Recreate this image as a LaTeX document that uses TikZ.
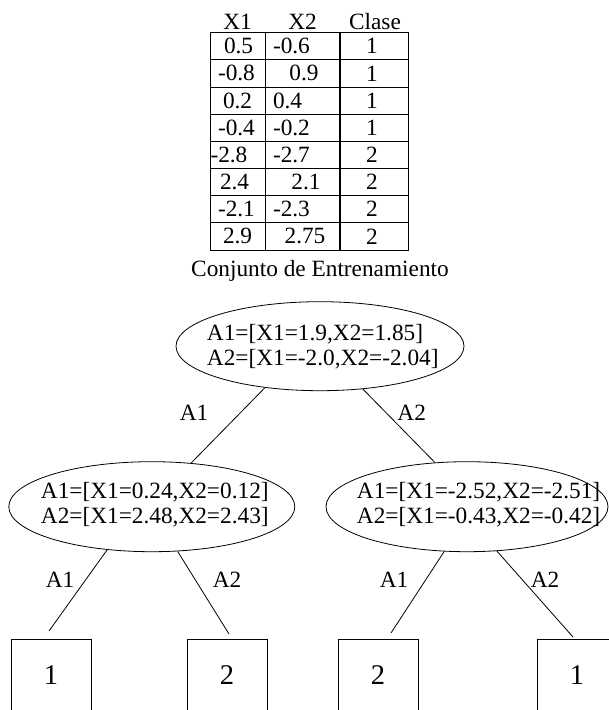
\documentclass[tikz,border=0pt]{standalone}
\usepackage{fontspec}
\setmainfont{Liberation Serif}
\usetikzlibrary{shapes.geometric}
\tikzset{
  txt/.style={inner sep=0pt, outer sep=0pt},
  oval/.style={ellipse, draw, line width=0.8pt, inner sep=0pt, minimum width=#1},
  oval/.default=286pt,
  leaf/.style={draw, line width=0.9pt, anchor=north, minimum width=80pt, inner xsep=0pt,
               inner ysep=26pt, text height=19.5pt, text depth=60pt,
               font=\fontsize{28.5}{30}\selectfont},
  edge/.style={line width=0.8pt},
  tline/.style={line width=0.9pt},
  tcol/.style={line width=1.2pt},
  blk/.style={txt, align=left},
}
\begin{document}
\begin{tikzpicture}[x=1pt, y=-1pt, font=\fontsize{23.3}{25}\selectfont]
\useasboundingbox (0,0) rectangle (609,710);
\clip (0,0) rectangle (609,710);

% ---------- table ----------
\draw[tline] (210,32.7) rectangle (408,250);
\foreach \k in {1,...,7} {
  \draw[tline] (210,{32.7+\k*27.16}) -- (408,{32.7+\k*27.16});
}
\draw[tcol] (265.5,32.7) -- (265.5,250);
\draw[tcol] (340,32.7) -- (340,250);

\node[txt, anchor=base] (hx1) at (237.5,29) {X1};
\node[txt, anchor=base] (hx2) at (302.5,29) {X2};
\node[txt, anchor=base] (hcl) at (375,29) {Clase};

% X1 column
\node[txt, anchor=west] (a1) at (224,46.3) {0.5};
\node[txt, anchor=west] (a2) at (218,73.4) {-0.8};
\node[txt, anchor=west] (a3) at (223,100.6) {0.2};
\node[txt, anchor=west] (a4) at (218,127.8) {-0.4};
\node[txt, anchor=west] (a5) at (210.5,154.9) {-2.8};
\node[txt, anchor=west] (a6) at (220,182.1) {2.4};
\node[txt, anchor=west] (a7) at (218,209.2) {-2.1};
\node[txt, anchor=west] (a8) at (223,236.4) {2.9};
% X2 column
\node[txt, anchor=west] (b1) at (273,46.3) {-0.6};
\node[txt] (b2) at (304,73.4) {0.9};
\node[txt, anchor=west] (b3) at (273,100.6) {0.4};
\node[txt, anchor=west] (b4) at (273,127.8) {-0.2};
\node[txt, anchor=west] (b5) at (273,154.9) {-2.7};
\node[txt] (b6) at (306,182.1) {2.1};
\node[txt, anchor=west] (b7) at (273,209.2) {-2.3};
\node[txt] (b8) at (305,236.4) {2.75};
% Clase column
\node[txt] (c1) at (372,46.3) {1};
\node[txt] (c2) at (372,73.4) {1};
\node[txt] (c3) at (372,100.6) {1};
\node[txt] (c4) at (372,127.8) {1};
\node[txt] (c5) at (372,154.9) {2};
\node[txt] (c6) at (372,182.1) {2};
\node[txt] (c7) at (372,209.2) {2};
\node[txt] (c8) at (372,236.4) {2};

\node[txt, anchor=base] (cap) at (320,276) {Conjunto de Entrenamiento};

% ---------- tree ----------
\node[oval=288pt, minimum height=89pt] (T) at (320,346.2) {};
\node[blk] (Tt) at (322.8,346.5) {A1=[X1=1.9,X2=1.85]\\A2=[X1=-2.0,X2=-2.04]};

\node[oval=286pt, minimum height=90pt] (L) at (151.8,506.7) {};
\node[blk] (Lt) at (154.8,505) {A1=[X1=0.24,X2=0.12]\\A2=[X1=2.48,X2=2.43]};

\node[oval=282pt, minimum height=90pt] (R) at (467,506.7) {};
\node[blk] (Rt) at (478.6,505) {A1=[X1=-2.52,X2=-2.51]\\A2=[X1=-0.43,X2=-0.42]};

\draw[edge] (T.217) -- (L.48);
\draw[edge] (T.315) -- (R.126);
\node[txt] (lTL) at (194,413) {A1};
\node[txt] (lTR) at (411.7,413) {A2};

\node[leaf] (k1) at (51,639) {1};
\node[leaf] (k2) at (227,639) {2};
\node[leaf] (k3) at (378,639) {2};
\node[leaf] (k4) at (577,639) {1};

\coordinate (e1) at (49,631);
\coordinate (e2) at (229,634);
\coordinate (e3) at (391,633);
\coordinate (e4) at (573,637);

\draw[edge] (L.224) -- (e1);
\draw[edge] (L.300) -- (e2);
\draw[edge] (R.243) -- (e3);
\draw[edge] (R.304) -- (e4);

\node[txt] (lL1) at (60,580) {A1};
\node[txt] (lL2) at (227,580) {A2};
\node[txt] (lR1) at (394,580) {A1};
\node[txt] (lR2) at (545,580) {A2};
\end{tikzpicture}
\end{document}
